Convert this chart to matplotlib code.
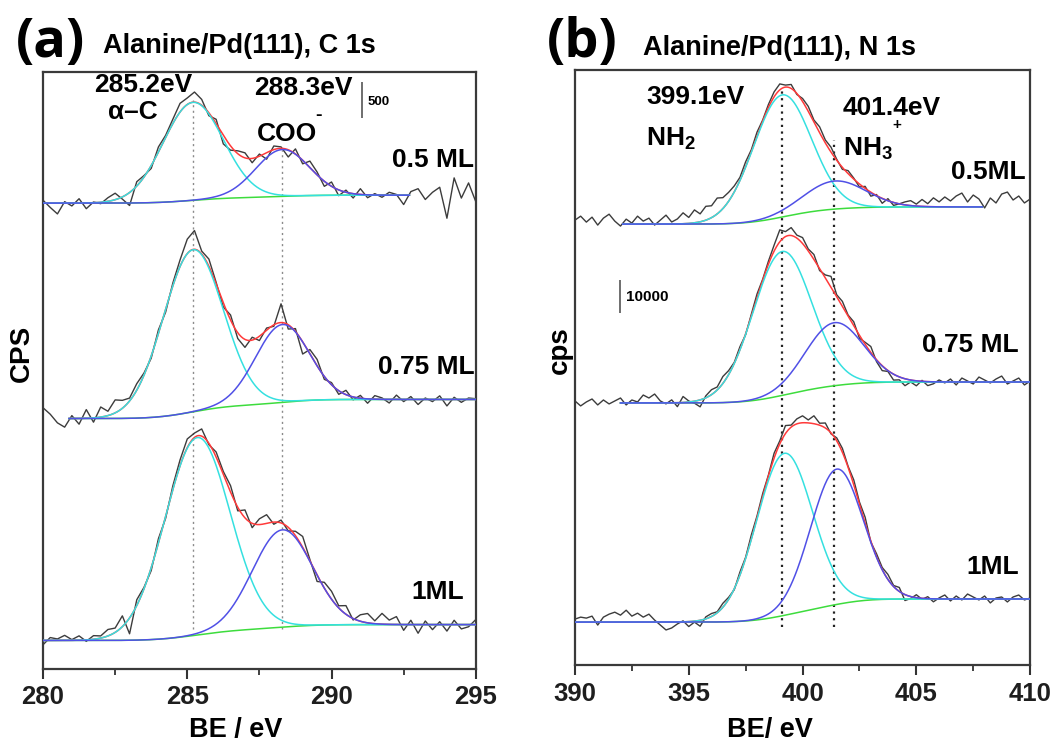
import math
import numpy as np
import matplotlib
matplotlib.use("Agg")
import matplotlib.pyplot as plt

plt.rcParams['font.family'] = ['Liberation Sans', 'DejaVu Sans']
plt.rcParams['font.weight'] = 'bold'
plt.rcParams['mathtext.fontset'] = 'custom'
plt.rcParams['mathtext.rm'] = 'Liberation Sans:bold'
plt.rcParams['mathtext.bf'] = 'Liberation Sans:bold'
plt.rcParams['mathtext.default'] = 'bf'

# ---------------- C 1s (panel a) ----------------
coverage_a = ["0.5 ML", "0.75 ML", "1ML"]
# peak positions (eV), FWHM (eV), heights (cps)
c_alpha_pos = [285.2, 285.2, 285.35]
c_alpha_fwhm = [2.45, 2.45, 2.65]
c_alpha_amp = [1360, 2250, 2740]
c_coo_pos = [288.3, 288.3, 288.3]
c_coo_fwhm = [2.2, 2.2, 2.45]
c_coo_amp = [650, 1080, 1350]
# Shirley background levels (stacked, cps) at low / high BE side
c_bg_low = [6460, 3470, 390]
c_bg_high = [6570, 3735, 610]
c_fit_range = [(280.0, 292.7), (280.9, 295.0), (280.0, 295.0)]

# measured spectra, 280-295 eV in 0.25 eV steps, given as deviation from the fit (cps)
c_resid_05 = [40, -60, -150, 20, -40, 60, -80, 10, -20, 50, 90, -30, -180, 60, 20, -40,
              70, 30, 60, 120, 90, 140, 80, -40, 60, -120, -60, 40, 70, -60, 30, -90,
              50, 20, -100, 70, -50, 90, 40, -70, 60, -80, 30, -60, 80, -40, 20, -30,
              40, 10, -130, 50, 90, -60, 40, 110, -320, 240, -40, 170, -90]
c_resid_075 = [150, 60, -60, -120, 40, -80, 120, -60, 140, 60, 180, 110, 40, 90, 30, -30,
               50, -40, 40, 90, 200, 260, 40, 100, 20, -60, 70, -80, -110, 40, -60, 30,
               -20, 260, -60, 40, -170, 60, 90, -40, 30, -50, 60, -40, 40, -60, 50, 20,
               -50, 60, -30, 40, -70, 20, -30, 50, -90, 30, -40, 20, 10]
c_resid_1 = [-60, 40, 20, 70, 10, 60, -20, 50, 30, 90, 60, 150, -220, 80, 20, -40,
             60, -30, 50, 80, 120, 60, 100, -20, 70, 40, 90, -50, 110, -60, 80, 120,
             -30, 40, -50, 60, 150, 20, -90, 80, 110, 30, 120, -20, 90, 130, 40, 150,
             60, 110, -80, 60, -120, 50, -70, 40, -90, 60, -60, -30, 70]
c_resid = [c_resid_05, c_resid_075, c_resid_1]

# ---------------- N 1s (panel b) ----------------
coverage_b = ["0.5ML", "0.75 ML", "1ML"]
n_amine_pos = [399.1, 399.1, 399.2]
n_amine_fwhm = [3.0, 3.05, 2.9]
n_amine_amp = [37000, 43600, 49100]
n_ammon_pos = [401.4, 401.4, 401.5]
n_ammon_fwhm = [3.2, 3.0, 2.7]
n_ammon_amp = [8500, 19100, 41000]
n_bg_low = [133600, 79400, 13000]
n_bg_high = [138800, 85750, 20000]
n_fit_range = [(392.1, 407.9), (392.0, 410.0), (390.0, 410.0)]

# measured spectra, 390-410 eV in 0.25 eV steps, deviation from the fit (cps)
n_resid_05 = [1200, 2400, 600, 2100, -300, 1800, 3000, 900, -600, 1500, 300, 2400, 900, 1800,
              -300, 1200, 2700, 600, 1500, 3300, 1800, 3900, 2400, 4200, 3600, 4800, 3300,
              2700, 1800, 900, 1500, 600, 1200, 300, 900, 1500, 1800, 600, 1200, -300, 900,
              1500, 600, 1800, 900, 1500, 300, -600, 900, 300, -900, 600, -1200, 300, -1500,
              600, -900, 0, 900, 1500, 600, 2100, 900, 2700, 1500, 3000, 1800, 3300, 4200,
              1500, 3600, 2400, -300, 2700, 1200, 3900, 4500, 2100, 3300, 1200, 2400]
n_resid_075 = [600, -900, 300, 1200, -600, 900, -300, 600, 1500, -600, 900, 300, 2400, 1500,
               2700, 600, -300, 900, -1200, 1800, 300, -600, -2100, 600, 1500, 900, 2100,
               1200, 300, 900, -300, 600, 1200, 300, 900, 1800, 3600, 1500, 2400, 900, 1800,
               600, 1500, -600, 900, 3300, 600, 1500, 300, 1200, -900, 600, 1800, -600,
               -1500, -300, -1800, -900, -2100, -600, -1500, 300, -1200, -600, 600, -300,
               900, -900, 1200, 300, -600, 1500, 600, -300, 900, 1800, -600, 300, 1200,
               -900, 300]
n_resid_1 = [900, 1500, 1200, 1800, -900, 1500, 2400, 3000, 2100, 3600, 1800, 2700, 1500,
             2400, 600, -900, -2400, -1800, -600, 300, -1500, -300, -1800, 600, 900, 300,
             1200, 600, -300, 900, 300, 1200, 600, 900, 300, 1500, 900, 2400, 600, 1500,
             2100, 900, 2400, 600, 1500, -300, 900, 1200, 300, 1500, 600, 1800, -300, 900,
             600, 1500, 300, 1200, -1800, -600, 900, -300, 600, -900, 300, 1200, -600, 900,
             -300, 1500, 600, -300, 900, -1200, 300, 600, -900, 600, 1200, -300, 300]
n_resid = [n_resid_05, n_resid_075, n_resid_1]

COL_DATA = '#3c3c3c'
COL_BG = '#3ddc3d'
COL_P1 = '#35e0e0'
COL_P2 = '#5050e6'
COL_SUM = '#ff3a3a'

erf = np.vectorize(math.erf)


def gauss(e, pos, fwhm, amp):
    return amp * np.exp(-4 * np.log(2) * (e - pos) ** 2 / fwhm ** 2)


def shirley(e, low, high, peaks):
    # step background following the integrated peak area
    w = 0.0
    total = 0.0
    for pos, fwhm, amp in peaks:
        s = fwhm / 2.3548
        w = w + amp * s * 0.5 * (1 + erf((e - pos) / (s * np.sqrt(2))))
        total += amp * s
    return low + (high - low) * w / total


def draw_panel(ax, e_data, resid, p1, p2, bg_low, bg_high, fit_range):
    for i in range(3):
        peaks = [(p1[0][i], p1[1][i], p1[2][i]), (p2[0][i], p2[1][i], p2[2][i])]
        # measured counts
        bg_d = shirley(e_data, bg_low[i], bg_high[i], peaks)
        y_data = bg_d + gauss(e_data, *peaks[0]) + gauss(e_data, *peaks[1]) + np.array(resid[i])
        ax.plot(e_data, y_data, color=COL_DATA, lw=1.0, zorder=2)
        # fitted components
        e = np.linspace(fit_range[i][0], fit_range[i][1], 400)
        bg = shirley(e, bg_low[i], bg_high[i], peaks)
        c1 = bg + gauss(e, *peaks[0])
        c2 = bg + gauss(e, *peaks[1])
        tot = bg + gauss(e, *peaks[0]) + gauss(e, *peaks[1])
        ax.plot(e, bg, color=COL_BG, lw=1.1, zorder=3)
        ax.plot(e, tot, color=COL_SUM, lw=1.1, zorder=3)
        ax.plot(e, c1, color=COL_P1, lw=1.1, zorder=4)
        ax.plot(e, c2, color=COL_P2, lw=1.1, zorder=4)


def style_axes(ax, lo, hi):
    ax.set_xlim(lo, hi)
    ax.set_xticks(np.arange(lo, hi + 0.1, 5))
    ax.set_xticks(np.arange(lo + 2.5, hi, 5), minor=True)
    ax.set_yticks([])
    ax.tick_params(axis='x', which='major', direction='out', length=7, width=1.5,
                   labelsize=18.5, pad=5, colors='#333333', labelcolor='#1e1e1e')
    ax.tick_params(axis='x', which='minor', direction='out', length=4, width=1.3,
                   colors='#333333')
    for lab in ax.get_xticklabels():
        lab.set_fontweight('bold')
    for sp in ax.spines.values():
        sp.set_linewidth(1.6)
        sp.set_color('#3a3a3a')


fig = plt.figure(figsize=(10.62, 7.42), dpi=100)
ax_a = fig.add_axes([0.0405, 0.0990, 0.4075, 0.8040])
ax_b = fig.add_axes([0.5414, 0.1038, 0.4286, 0.8019])

# panel a
e_c = np.arange(280.0, 295.01, 0.25)
draw_panel(ax_a, e_c, c_resid,
           (c_alpha_pos, c_alpha_fwhm, c_alpha_amp),
           (c_coo_pos, c_coo_fwhm, c_coo_amp),
           c_bg_low, c_bg_high, c_fit_range)
style_axes(ax_a, 280, 295)
ax_a.set_ylim(0, 8280)
ax_a.vlines([c_alpha_pos[0]], 550, 7890, colors='#8a8a8a', linestyles=(0, (1.5, 2.5)), lw=1.0, zorder=1)
ax_a.vlines([c_coo_pos[0]], 550, 7195, colors='#8a8a8a', linestyles=(0, (1.5, 2.5)), lw=1.0, zorder=1)
ax_a.text(283.46, 8098, f"{c_alpha_pos[0]}eV", ha='center', va='center', fontsize=19)
ax_a.text(283.1, 7723, "\u03b1\u2013C", ha='center', va='center', fontsize=19)
ax_a.text(289.04, 8056, f"{c_coo_pos[0]}eV", ha='center', va='center', fontsize=19)
ax_a.text(288.45, 7417, "COO", ha='center', va='center', fontsize=19)
ax_a.text(289.45, 7680, "-", ha='left', va='center', fontsize=14)
ax_a.vlines([291.05], 7640, 8140, colors='#555555', lw=1.2)
ax_a.text(291.25, 7870, "500", ha='left', va='center', fontsize=9.5)
for lab, x, y in zip(coverage_a, [294.95, 294.95, 294.6], [7056, 4181, 1056]):
    ax_a.text(x, y, lab, ha='right', va='center', fontsize=19)

# panel b
e_n = np.arange(390.0, 410.01, 0.25)
draw_panel(ax_b, e_n, n_resid,
           (n_amine_pos, n_amine_fwhm, n_amine_amp),
           (n_ammon_pos, n_ammon_fwhm, n_ammon_amp),
           n_bg_low, n_bg_high, n_fit_range)
style_axes(ax_b, 390, 410)
ax_b.set_ylim(0, 180300)
ax_b.vlines([n_amine_pos[0]], 11500, 174000, colors='#222222', linestyles=(0, (1, 2)), lw=1.6, zorder=1)
ax_b.vlines([n_ammon_pos[0]], 11500, 159000, colors='#222222', linestyles=(0, (1, 2)), lw=1.6, zorder=1)
ax_b.text(393.12, 172100, f"{n_amine_pos[0]}eV", ha='left', va='center', fontsize=19)
ax_b.text(393.12, 159500, r"NH$_{\mathbf{2}}$", ha='left', va='center', fontsize=19)
ax_b.text(401.78, 168800, f"{n_ammon_pos[0]}eV", ha='left', va='center', fontsize=19)
ax_b.text(401.78, 156500, r"NH$_{\mathbf{3}}$", ha='left', va='center', fontsize=19)
ax_b.text(403.95, 163500, "+", ha='left', va='center', fontsize=11)
ax_b.vlines([392.0], 106650, 116650, colors='#555555', lw=1.2)
ax_b.text(392.24, 111500, "10000", ha='left', va='center', fontsize=11)
for lab, x, y in zip(coverage_b, [409.78, 409.5, 409.5], [149400, 96960, 29700]):
    ax_b.text(x, y, lab, ha='right', va='center', fontsize=19)

# panel headings and axis labels
fig.text(16 / 1062, 0.923, "(a)", family=['Open Sans', 'DejaVu Sans'], fontsize=39,
         fontweight='bold', va='baseline', ha='left')
fig.text(103 / 1062, 0.9286, "Alanine/Pd(111), C 1s", fontsize=19.5, va='baseline', ha='left')
fig.text(547 / 1062, 0.923, "(b)", family=['Open Sans', 'DejaVu Sans'], fontsize=39,
         fontweight='bold', va='baseline', ha='left')
fig.text(643 / 1062, 0.9259, "Alanine/Pd(111), N 1s", fontsize=19.5, va='baseline', ha='left')
fig.text(236 / 1062, 1 - 730 / 742, "BE / eV", fontsize=19.5, ha='center', va='center')
fig.text(770 / 1062, 1 - 730 / 742, "BE/ eV", fontsize=19.5, ha='center', va='center')
fig.text(22 / 1062, 1 - 353 / 742, "CPS", fontsize=20, rotation=90, ha='center', va='center')
fig.text(560 / 1062, 1 - 350 / 742, "cps", fontsize=20, rotation=90, ha='center', va='center')

fig.savefig("out.png", dpi=100)
